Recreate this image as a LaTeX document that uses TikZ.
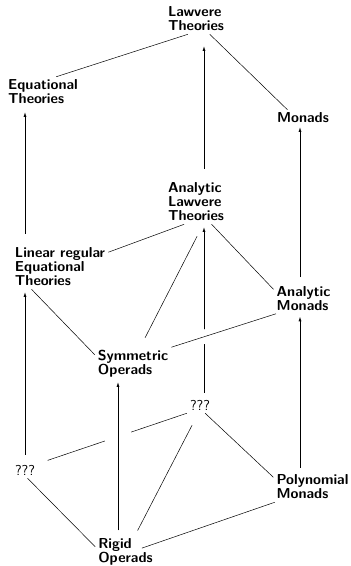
\documentclass[tikz,border=0pt]{standalone}
\usepackage{tikz}
\usetikzlibrary{arrows.meta}
\tikzset{
  obj/.style={font=\sffamily\bfseries\fontsize{14.4}{14}\selectfont, align=left, inner sep=3pt},
  unk/.style={font=\sffamily\fontsize{14.4}{14}\selectfont, inner sep=3pt},
  incl/.style={line width=0.6pt, -{Latex[length=4.5pt,width=3pt]}, shorten <=4pt, shorten >=3pt},
  link/.style={line width=0.5pt},
  over/.style={preaction={draw, white, line width=#1}},
}
\begin{document}
\begin{tikzpicture}[x=1pt,y=-1pt]
  \useasboundingbox (0,0) rectangle (351,566);

  % Theories and monads
  \node[obj] (lawvere) at (196,19) {Lawvere\\Theories};
  \node[obj] (eqth) at (43,92) {Equational\\Theories};
  \node[obj] (monads) at (303,118) {Monads};

  % Analytic layer
  \node[obj] (anlaw) at (196,202) {Analytic\\Lawvere\\Theories};
  \node[obj] (linreg) at (60,267) {Linear regular\\Equational\\Theories};
  \node[obj] (anmon) at (303.5,298.5) {Analytic\\Monads};
  \node[obj] (symop) at (133,363.5) {Symmetric\\Operads};

  % Bottom layer
  \node[unk] (qmid) at (200,405) {???};
  \node[unk] (qleft) at (25,470) {???};
  \node[obj] (polymon) at (312.5,487) {Polynomial\\Monads};
  \node[obj] (rigid) at (125.5,552) {Rigid\\Operads};

  % Columns of the vertical arrows
  \coordinate (rigidtop) at ([xshift=-7.5pt]rigid.north);
  \coordinate (qmidtop) at ([xshift=4pt]qmid.north);
  \coordinate (anlawtop) at ([xshift=8pt]anlaw.north);
  \coordinate (polytop) at ([xshift=-12.5pt]polymon.north);
  \coordinate (anmontop) at ([xshift=-3.5pt]anmon.north);

  % Top face
  \draw[link] (eqth.49) -- (lawvere.-118);
  \draw[link] (lawvere.-48.6) -- (monads.152);
  \draw[incl, shorten <=11pt, shorten >=5pt] (qleft |- linreg.north) -- (qleft |- eqth.south);
  \draw[incl, shorten <=11pt, shorten >=12pt] (anlawtop) -- (anlawtop |- lawvere.south);
  \draw[incl, shorten <=6pt, shorten >=1pt] (anmontop) -- (anmontop |- monads.south);

  % Middle face
  \draw[link] (linreg.17.8) -- (anlaw.-118.4);
  \draw[link] (anlaw.-55.2) -- (anmon.163.4);
  \draw[link, shorten <=13.5pt, shorten >=10pt] (anlaw.-72.6) -- (symop.66);
  \draw[link] (linreg.-142.5) -- (symop.167.4);
  \draw[incl, shorten <=7pt] (qleft.north) -- (qleft |- linreg.south);
  \draw[incl] (qmidtop) -- (qmidtop |- anlaw.south);
  \draw[incl] (polytop) -- (polytop |- anmon.south);
  \draw[link, over=14pt] (symop.23.9) -- (anmon.-151.3);

  % Bottom face
  \draw[link, shorten >=10pt] (qmid.-148.4) -- (qleft.26.6);
  \draw[link] (qmid.-58) -- (polymon.166.8);
  \draw[link, shorten <=13.5pt, shorten >=5.5pt] (qmid.-102.7) -- (rigid.60.4);
  \draw[link] (qleft.-73) -- (rigid.170.7);
  \draw[link, shorten <=-14.8pt] (rigid.16.9) -- (polymon.-158.4);
  \draw[incl, shorten <=5pt, shorten >=2pt, over=26pt] (rigidtop) -- (rigidtop |- symop.south);
\end{tikzpicture}
\end{document}
